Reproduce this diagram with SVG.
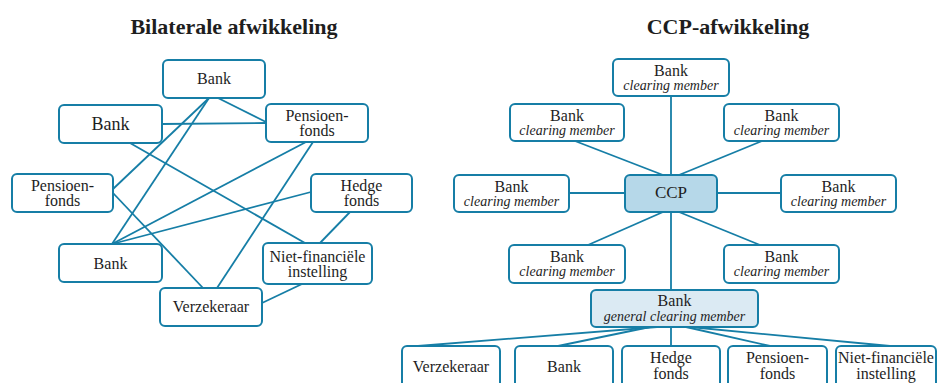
<svg xmlns="http://www.w3.org/2000/svg" width="940" height="383" viewBox="0 0 940 383" font-family="'Liberation Serif', serif">
<style>
.n{fill:#fff;stroke:#167ea6;stroke-width:2}
.ccp{fill:#b6d8e9}
.gcm{fill:#dbeaf3}
.c line{stroke:#167ea6;stroke-width:1.8}
text{font-family:'Liberation Serif',serif;fill:#1e1e1e;text-anchor:middle;font-size:16px}
text.i{font-style:italic;font-size:14px}
text.t{font-size:22px;font-weight:bold}
</style>
<rect width="940" height="383" fill="#fff"/>
<text class="t" x="234" y="34">Bilaterale afwikkeling</text>
<text class="t" x="728" y="34">CCP-afwikkeling</text>
<g class="c" id="connectors">
<line x1="218" y1="98" x2="266" y2="122"/>
<line x1="162" y1="124" x2="266" y2="123"/>
<line x1="209" y1="98" x2="113" y2="189"/>
<line x1="209" y1="98" x2="112" y2="244"/>
<line x1="130" y1="143" x2="305" y2="243"/>
<line x1="306" y1="142" x2="112" y2="244"/>
<line x1="313" y1="142" x2="217" y2="288"/>
<line x1="311" y1="192" x2="112" y2="244"/>
<line x1="350" y1="212" x2="320" y2="243"/>
<line x1="113" y1="193" x2="203" y2="288"/>
<line x1="262" y1="303" x2="302" y2="284"/>
<line x1="671" y1="96" x2="671" y2="175"/>
<line x1="575" y1="141" x2="663" y2="175"/>
<line x1="762" y1="141" x2="679" y2="175"/>
<line x1="569" y1="193" x2="625" y2="193"/>
<line x1="717" y1="193" x2="781" y2="193"/>
<line x1="588" y1="245" x2="663" y2="212"/>
<line x1="760" y1="245" x2="679" y2="212"/>
<line x1="671" y1="212" x2="671" y2="290"/>
<line x1="657" y1="327" x2="418" y2="346"/>
<line x1="650" y1="327" x2="558" y2="346"/>
<line x1="671" y1="327" x2="671" y2="346"/>
<line x1="686" y1="327" x2="770" y2="346"/>
<line x1="690" y1="327" x2="890" y2="346"/>
</g>
<g id="l-bank-top"><rect class="n" x="163" y="60" width="102" height="38" rx="5"/><text x="214" y="84">Bank</text></g>
<g id="l-bank-left"><rect class="n" x="59" y="105" width="103" height="38" rx="5"/><text x="110.5" y="130" style="font-size:18px">Bank</text></g>
<g id="l-pens-right"><rect class="n" x="266" y="104" width="102" height="38" rx="5"/><text x="317" y="120.5">Pensioen-</text><text x="317" y="136">fonds</text></g>
<g id="l-pens-left"><rect class="n" x="12" y="174" width="101" height="38" rx="5"/><text x="62.5" y="190.5">Pensioen-</text><text x="62.5" y="206">fonds</text></g>
<g id="l-hedge"><rect class="n" x="311" y="174" width="101" height="38" rx="5"/><text x="361.5" y="190.5">Hedge</text><text x="361.5" y="206">fonds</text></g>
<g id="l-bank-bottom"><rect class="n" x="59" y="244" width="103" height="38" rx="5"/><text x="110.5" y="269">Bank</text></g>
<g id="l-verz"><rect class="n" x="160" y="288" width="102" height="38" rx="5"/><text x="211" y="312">Verzekeraar</text></g>
<g id="l-niet"><rect class="n" x="263" y="243" width="109" height="41" rx="5"/><text x="317.5" y="261.5">Niet-financiële</text><text x="317.5" y="277">instelling</text></g>
<g id="r-top"><rect class="n" x="613" y="59" width="116" height="37" rx="5"/><text x="671" y="76">Bank</text><text class="i" x="671" y="90">clearing member</text></g>
<g id="r-ul"><rect class="n" x="510" y="104" width="114" height="37" rx="5"/><text x="567" y="121">Bank</text><text class="i" x="567" y="135">clearing member</text></g>
<g id="r-ur"><rect class="n" x="724" y="104" width="115" height="37" rx="5"/><text x="781.5" y="121">Bank</text><text class="i" x="781.5" y="135">clearing member</text></g>
<g id="r-ml"><rect class="n" x="454" y="175" width="115" height="37" rx="5"/><text x="511.5" y="191.5">Bank</text><text class="i" x="511.5" y="205.5">clearing member</text></g>
<g id="r-ccp"><rect class="n ccp" x="625" y="175" width="92" height="37" rx="5"/><text x="671" y="198" style="font-size:17px">CCP</text></g>
<g id="r-mr"><rect class="n" x="781" y="175" width="115" height="37" rx="5"/><text x="838.5" y="191.5">Bank</text><text class="i" x="838.5" y="205.5">clearing member</text></g>
<g id="r-ll"><rect class="n" x="509" y="245" width="116" height="38" rx="5"/><text x="567" y="261.5">Bank</text><text class="i" x="567" y="275.5">clearing member</text></g>
<g id="r-lr"><rect class="n" x="724" y="245" width="115" height="38" rx="5"/><text x="781.5" y="261.5">Bank</text><text class="i" x="781.5" y="275.5">clearing member</text></g>
<g id="r-gcm"><rect class="n gcm" x="591" y="290" width="167" height="37" rx="5"/><text x="674.5" y="306">Bank</text><text class="i" x="674.5" y="320.5">general clearing member</text></g>
<g id="r-verz"><rect class="n" x="402" y="346" width="98" height="44" rx="5"/><text x="451" y="371.5">Verzekeraar</text></g>
<g id="r-bank"><rect class="n" x="515" y="346" width="98" height="44" rx="5"/><text x="564" y="371.5">Bank</text></g>
<g id="r-hedge"><rect class="n" x="622" y="346" width="98" height="44" rx="5"/><text x="671" y="363">Hedge</text><text x="671" y="379">fonds</text></g>
<g id="r-pens"><rect class="n" x="728" y="346" width="99" height="44" rx="5"/><text x="777.5" y="363">Pensioen-</text><text x="777.5" y="379">fonds</text></g>
<g id="r-niet"><rect class="n" x="836" y="346" width="100" height="44" rx="5"/><text x="886" y="363">Niet-financiële</text><text x="886" y="379">instelling</text></g>
</svg>
